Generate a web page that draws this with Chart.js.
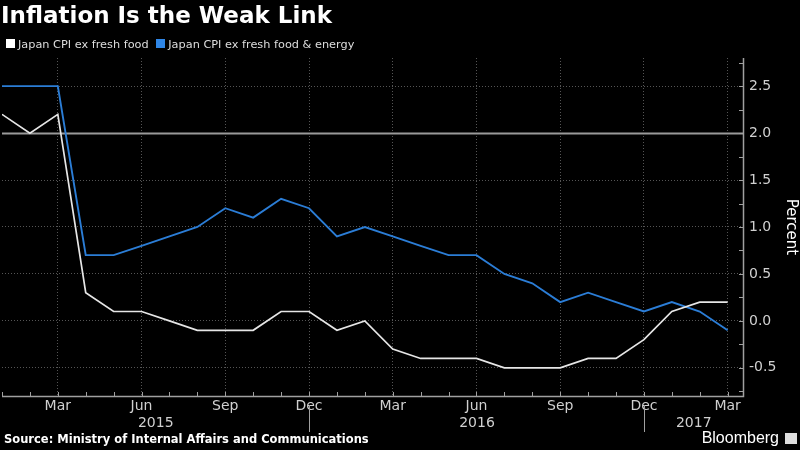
<!DOCTYPE html>
<html lang="en">
<head>
<meta charset="UTF-8">
<title>Inflation Is the Weak Link</title>
<script src="https://cdn.jsdelivr.net/npm/chart.js"></script>
<style>
  body { margin: 0; background: #000; width: 800px; height: 450px; overflow: hidden; position: relative; font-family: "DejaVu Sans", sans-serif; }
  #chart { position: absolute; left: 0; top: 0; }
  .title { position: absolute; left: 1px; top: 2px; color: #fff; font-weight: bold; font-size: 23px; white-space: nowrap; }
  .legend { position: absolute; left: 6px; top: 38px; color: #ddd; font-size: 11.3px; white-space: nowrap; }
  .legend span.box { display: inline-block; width: 9px; height: 9px; margin-right: 3px; }
  .legend span.item { margin-right: 4px; }
  .source { position: absolute; left: 4px; top: 432px; color: #fff; font-weight: bold; font-size: 11.5px; white-space: nowrap; }
  .brand { position: absolute; right: 21px; top: 429px; color: #fff; font-size: 16px; font-family: "Liberation Sans", sans-serif; }
  .logo { position: absolute; right: 3px; top: 433px; width: 12px; height: 11px; background: #ddd; }
</style>
</head>
<body>
<canvas id="chart" width="800" height="450"></canvas>
<div class="title">Inflation Is the Weak Link</div>
<div class="legend">
  <span class="item"><span class="box" style="background:#fff"></span>Japan CPI ex fresh food</span>
  <span class="item"><span class="box" style="background:#2f86e6"></span>Japan CPI ex fresh food &amp; energy</span>
</div>
<div class="source">Source: Ministry of Internal Affairs and Communications</div>
<div class="brand">Bloomberg</div>
<div class="logo"></div>

<script>
// monthly, Jan 2015 .. Mar 2017
const months = ['Jan','Feb','Mar','Apr','May','Jun','Jul','Aug','Sep','Oct','Nov','Dec',
                'Jan','Feb','Mar','Apr','May','Jun','Jul','Aug','Sep','Oct','Nov','Dec',
                'Jan','Feb','Mar'];
const years = ['2015', '2016', '2017'];
const exFreshFood = [2.2, 2.0, 2.2, 0.3, 0.1, 0.1, 0.0, -0.1, -0.1, -0.1, 0.1, 0.1,
                     -0.1, 0.0, -0.3, -0.4, -0.4, -0.4, -0.5, -0.5, -0.5, -0.4, -0.4, -0.2,
                     0.1, 0.2, 0.2];
const exFoodEnergy = [2.5, 2.5, 2.5, 0.7, 0.7, 0.8, 0.9, 1.0, 1.2, 1.1, 1.3, 1.2,
                      0.9, 1.0, 0.9, 0.8, 0.7, 0.7, 0.5, 0.4, 0.2, 0.3, 0.2, 0.1,
                      0.2, 0.1, -0.1];
const yTicks = [-0.75, -0.5, -0.25, 0, 0.25, 0.5, 0.75, 1, 1.25, 1.5, 1.75, 2, 2.25, 2.5, 2.75];
const targetLevel = 2.0;

const toPoints = arr => arr.map((v, i) => ({ x: i, y: v }));
const labelled = i => i % 3 === 2;
const isHalf = v => Math.abs(v * 2 - Math.round(v * 2)) < 1e-6;

// extra drawing: the 2% line, solid axes, inward tick marks, year labels + separators
const extras = {
  id: 'extras',
  beforeDatasetsDraw(chart) {
    const { ctx, chartArea: a, scales: { y } } = chart;
    const py = Math.round(y.getPixelForValue(targetLevel)) + 0.5;
    ctx.save();
    ctx.strokeStyle = '#9a9a9a';
    ctx.lineWidth = 2;
    ctx.beginPath();
    ctx.moveTo(a.left, py);
    ctx.lineTo(a.right, py);
    ctx.stroke();
    ctx.restore();
  },
  afterDraw(chart) {
    const { ctx, chartArea: a, scales: { x, y } } = chart;
    ctx.save();
    ctx.strokeStyle = '#a0a0a0';
    ctx.lineWidth = 1.5;
    ctx.beginPath();
    ctx.moveTo(a.left, a.bottom + 0.5);
    ctx.lineTo(a.right + 0.5, a.bottom + 0.5);
    ctx.lineTo(a.right + 0.5, a.top);
    ctx.stroke();

    ctx.lineWidth = 1;
    ctx.beginPath();
    x.ticks.forEach(t => {
      const px = Math.round(x.getPixelForValue(t.value)) + 0.5;
      ctx.moveTo(px, a.bottom);
      ctx.lineTo(px, a.bottom - 4);
    });
    yTicks.forEach(v => {
      const py = Math.round(y.getPixelForValue(v)) + 0.5;
      ctx.moveTo(a.right, py);
      ctx.lineTo(a.right - 4, py);
    });
    ctx.stroke();

    // year separators at December
    const seps = [11, 23].map(i => Math.round(x.getPixelForValue(i)) + 0.5);
    ctx.beginPath();
    seps.forEach(px => {
      ctx.moveTo(px, a.bottom + 9);
      ctx.lineTo(px, a.bottom + 36);
    });
    ctx.stroke();

    const bounds = [a.left, ...seps, a.right];
    ctx.fillStyle = '#d0d0d0';
    ctx.font = '14px "DejaVu Sans"';
    ctx.textAlign = 'center';
    ctx.textBaseline = 'middle';
    years.forEach((yr, k) => {
      ctx.fillText(yr, (bounds[k] + bounds[k + 1]) / 2, a.bottom + 27);
    });
    ctx.restore();
  }
};

new Chart(document.getElementById('chart'), {
  type: 'line',
  data: {
    datasets: [{
      label: 'Japan CPI ex fresh food',
      data: toPoints(exFreshFood),
      borderColor: '#e6e6e6',
      borderWidth: 1.7,
      pointRadius: 0,
      tension: 0
    }, {
      label: 'Japan CPI ex fresh food & energy',
      data: toPoints(exFoodEnergy),
      borderColor: '#2b7dd6',
      borderWidth: 1.9,
      pointRadius: 0,
      tension: 0
    }]
  },
  options: {
    responsive: false,
    animation: false,
    layout: { padding: { top: 58, left: 0, right: 0, bottom: 0 } },
    plugins: { legend: { display: false }, tooltip: { enabled: false } },
    scales: {
      x: {
        type: 'linear',
        min: 0,
        max: 26.55,
        afterFit: s => { s.height = 54; },
        afterBuildTicks: s => { s.ticks = months.map((m, i) => ({ value: i })); },
        ticks: {
          autoSkip: false,
          maxRotation: 0,
          padding: 2,
          color: '#d0d0d0',
          font: { family: 'DejaVu Sans', size: 14 },
          callback: (v) => labelled(v) ? months[v] : ''
        },
        grid: {
          drawTicks: false,
          color: c => (c.tick && labelled(c.tick.value)) ? '#555' : 'rgba(0,0,0,0)',
          lineWidth: 1
        },
        border: { display: false, dash: [1, 2] }
      },
      y: {
        position: 'right',
        min: -0.8,
        max: 2.8,
        afterFit: s => { s.width = 57; },
        afterBuildTicks: s => { s.ticks = yTicks.map(v => ({ value: v })); },
        ticks: {
          padding: 6,
          color: '#d0d0d0',
          font: { family: 'DejaVu Sans', size: 14 },
          callback: v => isHalf(v) ? v.toFixed(1) : ''
        },
        grid: {
          drawTicks: false,
          color: c => (c.tick && isHalf(c.tick.value) && c.tick.value !== targetLevel) ? '#555' : 'rgba(0,0,0,0)'
        },
        border: { display: false, dash: [1, 2] },
        title: {
          display: true,
          text: 'Percent',
          color: '#fff',
          font: { family: 'DejaVu Sans', size: 15 },
          padding: 0
        }
      }
    }
  },
  plugins: [extras]
});
</script>
</body>
</html>
